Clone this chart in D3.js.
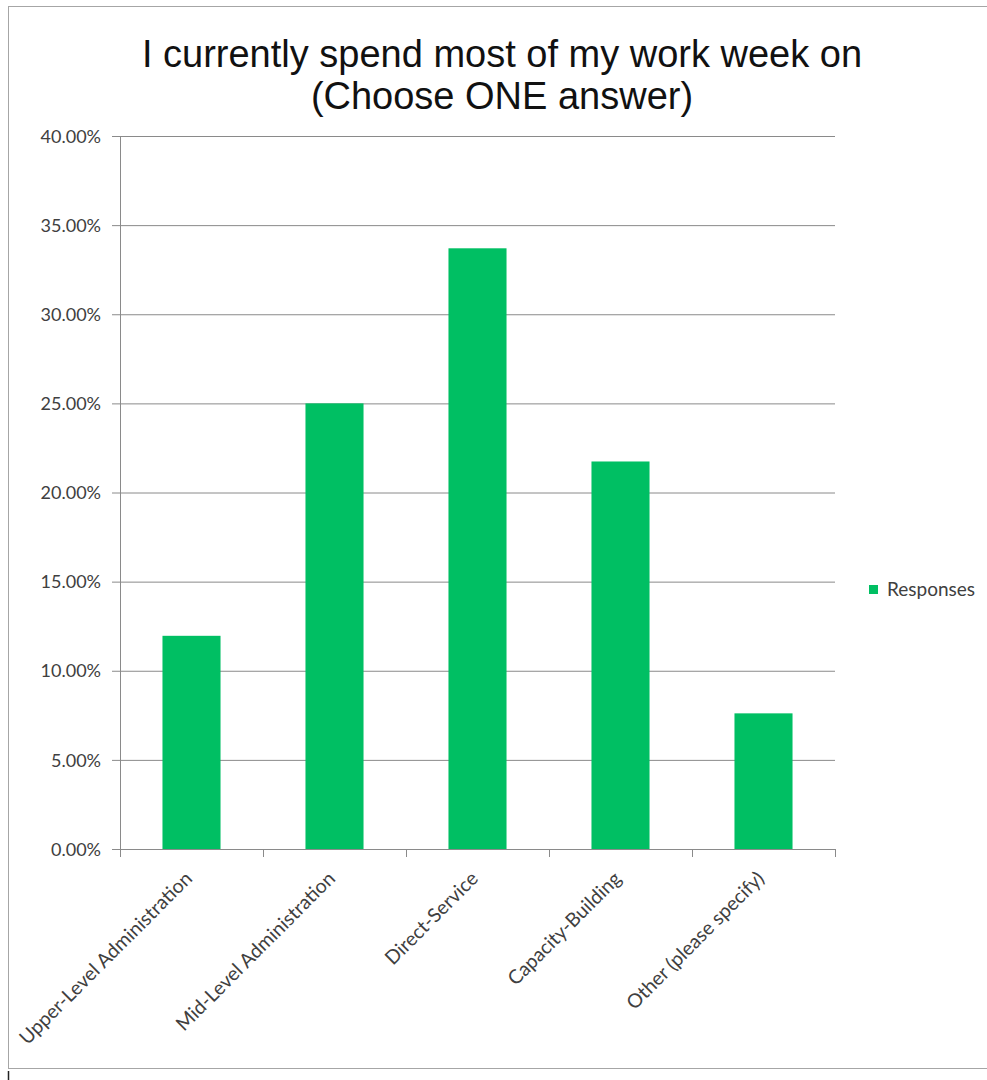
<!DOCTYPE html>
<html>
<head>
<meta charset="utf-8">
<script src="https://cdn.jsdelivr.net/npm/d3@7"></script>
<style>
  html, body { margin: 0; padding: 0; background: #ffffff; }
  svg { display: block; }
</style>
</head>
<body>
<svg id="chart" width="987" height="1080"></svg>
<script>
// Survey answers and their share of responses (percent)
const categories = [
  "Upper-Level Administration",
  "Mid-Level Administration",
  "Direct-Service",
  "Capacity-Building",
  "Other (please specify)"
];
const responses = [11.96, 25.00, 33.70, 21.74, 7.61];
const yTicks = [0, 5, 10, 15, 20, 25, 30, 35, 40];
const titleLines = ["I currently spend most of my work week on", "(Choose ONE answer)"];
const seriesName = "Responses";

const svg = d3.select("#chart");
const green = "#00BF63";
const gridColor = "#8a8a8a";
const labelColor = "#404040";
const labelFont = "Lato, 'Open Sans', sans-serif";

// outer chart frame
svg.append("rect")
  .attr("x", 8.5).attr("y", 6.5)
  .attr("width", 1000).attr("height", 1062)
  .attr("fill", "none").attr("stroke", "#a6a6a6").attr("stroke-width", 1);
svg.append("line")
  .attr("x1", 8.5).attr("x2", 8.5).attr("y1", 1071).attr("y2", 1080)
  .attr("stroke", "#222").attr("stroke-width", 1.5);

// title
svg.append("text")
  .attr("x", 502).attr("y", 67)
  .attr("text-anchor", "middle")
  .attr("font-family", "'Liberation Sans', Arial, sans-serif")
  .attr("font-size", 38)
  .attr("fill", "#111")
  .selectAll("tspan").data(titleLines).join("tspan")
  .attr("x", 502).attr("dy", (d, i) => i === 0 ? 0 : 42)
  .text(d => d);

const plot = { left: 120, right: 835, top: 136, bottom: 849 };

const x = d3.scaleBand()
  .domain(categories)
  .range([plot.left, plot.right])
  .paddingInner(0.594)
  .paddingOuter(0.297);

const y = d3.scaleLinear()
  .domain([0, 40])
  .range([plot.bottom, plot.top]);

// horizontal gridlines with left ticks
const yAxis = d3.axisLeft(y)
  .tickValues(yTicks)
  .tickSize(-(plot.right - plot.left))
  .tickFormat(d => d3.format(".2f")(d) + "%");

const gy = svg.append("g")
  .attr("transform", `translate(${plot.left},0)`)
  .call(yAxis);
gy.select(".domain").remove();
gy.selectAll(".tick line")
  .attr("x1", -8)
  .attr("stroke", gridColor).attr("stroke-width", 1);
gy.selectAll(".tick text")
  .attr("x", -19)
  .attr("dy", "0.34em")
  .attr("font-family", labelFont)
  .attr("font-size", 18)
  .attr("fill", labelColor);

// bars
svg.append("g").selectAll("rect")
  .data(responses)
  .join("rect")
  .attr("x", (d, i) => x(categories[i]))
  .attr("width", x.bandwidth())
  .attr("y", d => y(d))
  .attr("height", d => y(0) - y(d))
  .attr("fill", green);

// vertical axis line
svg.append("line")
  .attr("x1", plot.left + 0.5).attr("x2", plot.left + 0.5)
  .attr("y1", y(40)).attr("y2", y(0) + 8)
  .attr("stroke", gridColor).attr("stroke-width", 1);

// category axis with ticks on category boundaries
const xAxisG = svg.append("g")
  .attr("transform", `translate(0,${plot.bottom})`);
xAxisG.append("line")
  .attr("x1", plot.left).attr("x2", plot.right)
  .attr("y1", 0.5).attr("y2", 0.5)
  .attr("stroke", gridColor);
const boundaries = categories.map(c => x(c) - x.step() * x.paddingInner() / 2)
  .concat([plot.right]);
xAxisG.selectAll("line.bt").data(boundaries.slice(1)).join("line")
  .attr("class", "bt")
  .attr("x1", d => Math.round(d) + 0.5).attr("x2", d => Math.round(d) + 0.5)
  .attr("y1", 0).attr("y2", 8)
  .attr("stroke", gridColor);

xAxisG.selectAll("text").data(categories).join("text")
  .attr("transform", d => `translate(${x(d) + x.bandwidth() / 2 - 3},${26}) rotate(-45)`)
  .attr("text-anchor", "end")
  .attr("dy", "0.35em")
  .attr("font-family", labelFont)
  .attr("font-size", 19.5)
  .attr("fill", labelColor)
  .text(d => d);

// legend
const legend = svg.append("g").attr("transform", "translate(869,585)");
legend.append("rect")
  .attr("width", 9).attr("height", 9)
  .attr("fill", green);
legend.append("text")
  .attr("x", 18).attr("y", 4.5)
  .attr("dy", "0.35em")
  .attr("font-family", labelFont)
  .attr("font-size", 19)
  .attr("fill", labelColor)
  .text(seriesName);
</script>
</body>
</html>
